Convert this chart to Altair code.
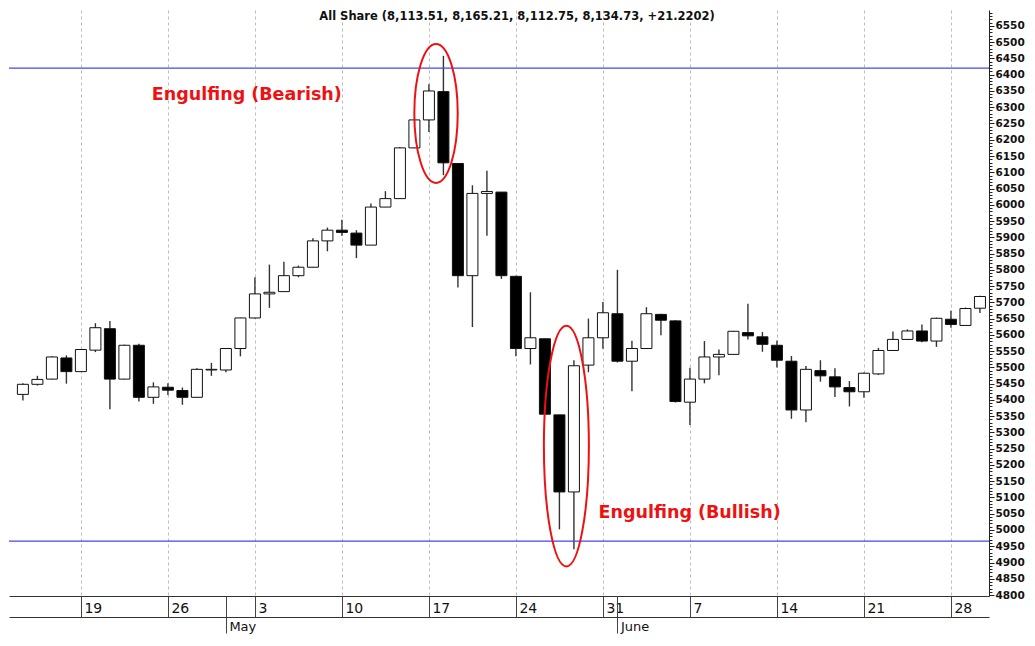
import altair as alt
import pandas as pd

# ---- candle data (trading-day index 0..66) ----
opens = [5417, 5448, 5464, 5529, 5487, 5553, 5619, 5464, 5568, 5408,
         5439, 5429, 5408, 5492, 5492, 5558, 5652, 5726, 5733, 5782,
         5808, 5889, 5922, 5913, 5876, 5993, 6019, 6175, 6261, 6348,
         6127, 5782, 6035, 6039, 5780, 5558, 5588, 5354, 5117, 5507,
         5591, 5665, 5519, 5558, 5663, 5643, 5393, 5464, 5532, 5540,
         5607, 5594, 5568, 5519, 5369, 5490, 5471, 5438, 5425, 5480,
         5552, 5586, 5612, 5581, 5648, 5629, 5682]
highs = [5451, 5474, 5534, 5537, 5556, 5636, 5643, 5570, 5573, 5454,
         5451, 5438, 5497, 5514, 5560, 5653, 5777, 5816, 5825, 5813,
         5897, 5930, 5954, 5922, 6004, 6042, 6178, 6263, 6371, 6458,
         6127, 6060, 6105, 6039, 5782, 5731, 5588, 5354, 5522, 5650,
         5701, 5800, 5582, 5685, 5665, 5645, 5499, 5581, 5555, 5612,
         5696, 5609, 5583, 5535, 5504, 5522, 5497, 5458, 5484, 5560,
         5610, 5617, 5632, 5653, 5674, 5684, 5720]
lows = [5398, 5444, 5463, 5450, 5486, 5547, 5371, 5463, 5395, 5388,
        5415, 5385, 5407, 5474, 5485, 5534, 5650, 5683, 5733, 5777,
        5807, 5857, 5905, 5836, 5876, 5993, 6018, 6174, 6224, 6091,
        5746, 5624, 5905, 5772, 5534, 5509, 5356, 5002, 4941, 5485,
        5557, 5515, 5427, 5558, 5599, 5392, 5323, 5451, 5476, 5539,
        5586, 5548, 5500, 5342, 5331, 5456, 5409, 5380, 5407, 5477,
        5552, 5584, 5577, 5563, 5622, 5629, 5667]
closes = [5448, 5463, 5532, 5487, 5555, 5622, 5464, 5568, 5408, 5440,
          5430, 5408, 5494, 5494, 5558, 5652, 5726, 5731, 5782, 5808,
          5889, 5922, 5915, 5876, 5993, 6019, 6175, 6261, 6350, 6129,
          5782, 6035, 6041, 5782, 5558, 5591, 5356, 5117, 5505, 5591,
          5668, 5519, 5558, 5665, 5645, 5395, 5464, 5532, 5540, 5611,
          5597, 5571, 5522, 5369, 5494, 5474, 5440, 5425, 5482, 5552,
          5586, 5612, 5581, 5651, 5632, 5681, 5718]

# ---- x-axis labels (trading-day index of each label) ----
week_tick_idx = [4, 10, 16, 22, 28, 34, 40, 46, 52, 58, 64]
week_tick_labels = ["19", "26", "3", "10", "17", "24", "31", "7", "14", "21", "28"]
month_tick_idx = [14, 41]
month_tick_labels = ["May", "June"]

# ---- horizontal levels ----
levels = [6420, 4966]

# ---- texts ----
title_text = "All Share (8,113.51, 8,165.21, 8,112.75, 8,134.73, +21.2202)"
title_pos = (34.08, 6577)
note_texts = ["Engulfing (Bearish)", "Engulfing (Bullish)"]
note_idx = [15.44, 45.98]
note_val = [6339, 5051]
ellipse_idx = [28.49, 37.48]
ellipse_val = [6281, 5258]

df = pd.DataFrame({"idx": list(range(len(opens))), "open": opens, "high": highs,
                   "low": lows, "close": closes})
lev_df = pd.DataFrame({"level": levels})
title_df = pd.DataFrame({"idx": [title_pos[0]], "value": [title_pos[1]], "text": [title_text]})
note_df = pd.DataFrame({"idx": note_idx, "value": note_val, "text": note_texts})

xs = alt.Scale(domain=[-0.6135, 66.28], nice=False, zero=False)
ys = alt.Scale(domain=[4797, 6599], nice=False, zero=False)


def label_expr(vals, labs):
    expr = "''"
    for v, l in reversed(list(zip(vals, labs))):
        expr = f"datum.value == {v} ? '{l}' : ({expr})"
    return expr


FONT = "DejaVu Sans"

week_axis = alt.Axis(
    values=week_tick_idx, labelExpr=label_expr(week_tick_idx, week_tick_labels),
    orient="bottom", title=None, tickSize=21, tickColor="#444", tickWidth=1,
    domainColor="#333", domainWidth=1, grid=True, gridDash=[3, 3], gridColor="#bdbdbd",
    gridWidth=1, labelAlign="left", labelBaseline="top", labelPadding=-16, labelOffset=3,
    labelFont=FONT, labelFontSize=14, labelColor="#111", labelOverlap=False,
    labelBound=False, labelFlush=False,
)
month_axis = alt.Axis(
    values=month_tick_idx, labelExpr=label_expr(month_tick_idx, month_tick_labels),
    orient="bottom", title=None, tickSize=37, tickColor="#444", tickWidth=1,
    domain=False, grid=False, labelAlign="left", labelBaseline="top", labelPadding=-13,
    labelOffset=3, labelFont=FONT, labelFontSize=13, labelColor="#111", labelOverlap=False,
    labelBound=False, labelFlush=False,
)
band_axis = alt.Axis(
    orient="bottom", title=None, offset=21, ticks=False, labels=False, grid=False,
    domain=True, domainColor="#333", domainWidth=1,
)
y_axis = alt.Axis(
    orient="right", title=None, values=list(range(4800, 6600, 10)), format="d",
    labelExpr="datum.value % 50 === 0 ? datum.label : ''",
    tickSize={"condition": {"test": "datum.value % 50 === 0", "value": 5}, "value": 3},
    tickColor="#222", domainColor="#222", grid=False, labelPadding=1,
    labelFont=FONT, labelFontWeight="bold", labelFontSize=10.5, labelColor="#111",
    labelOverlap=False, labelBound=False, labelFlush=False,
)

wicks = alt.Chart(df).mark_rule(color="#333", strokeWidth=1.4).encode(
    x=alt.X("idx:Q", scale=xs, axis=week_axis),
    y=alt.Y("low:Q", scale=ys, axis=y_axis),
    y2="high:Q",
)
bodies = alt.Chart(df).mark_bar(size=11, stroke="#111", strokeWidth=1).encode(
    x=alt.X("idx:Q", scale=xs, axis=month_axis),
    y=alt.Y("open:Q", scale=ys, axis=None),
    y2="close:Q",
    fill=alt.condition("datum.close >= datum.open", alt.value("white"), alt.value("black")),
)
lines = alt.Chart(lev_df).mark_rule(color="#4646ee", strokeWidth=1.3).encode(
    y=alt.Y("level:Q", scale=ys, axis=None),
)
title = alt.Chart(title_df).mark_text(
    font=FONT, fontSize=11.5, fontWeight="bold", color="#111", align="center", baseline="middle"
).encode(
    x=alt.X("idx:Q", scale=xs, axis=band_axis),
    y=alt.Y("value:Q", scale=ys, axis=None),
    text="text:N",
)
notes = alt.Chart(note_df).mark_text(
    font=FONT, fontSize=17.5, fontWeight="bold", color="#ee1111", align="center", baseline="middle"
).encode(
    x=alt.X("idx:Q", scale=xs, axis=None),
    y=alt.Y("value:Q", scale=ys, axis=None),
    text="text:N",
)


def ellipse_path(ratio):
    k = 0.5523
    a = ratio
    return (f"M 0 -1 C {k*a:.4f} -1 {a:.4f} {-k:.4f} {a:.4f} 0 "
            f"C {a:.4f} {k:.4f} {k*a:.4f} 1 0 1 "
            f"C {-k*a:.4f} 1 {-a:.4f} {k:.4f} {-a:.4f} 0 "
            f"C {-a:.4f} {-k:.4f} {-k*a:.4f} -1 0 -1 Z")


ell_layers = []
for (ix, val, rx, ry) in [(ellipse_idx[0], ellipse_val[0], 21.7, 69.5),
                          (ellipse_idx[1], ellipse_val[1], 22.5, 120.3)]:
    edf = pd.DataFrame({"idx": [ix], "value": [val]})
    ell_layers.append(
        alt.Chart(edf).mark_point(
            shape=ellipse_path(rx / ry), size=(2 * ry) ** 2, filled=False,
            stroke="#ee1111", strokeWidth=2, opacity=1,
        ).encode(
            x=alt.X("idx:Q", scale=xs, axis=None),
            y=alt.Y("value:Q", scale=ys, axis=None),
        )
    )

chart = alt.layer(wicks, bodies, lines, title, notes, *ell_layers).resolve_axis(
    x="independent", y="independent"
).properties(
    width=1017, height=626, padding=0, background="white",
    autosize=alt.AutoSizeParams(type="fit", contains="padding"),
).configure_view(stroke=None)

chart.save("out.html", embed_options={"renderer": "svg", "actions": False})
